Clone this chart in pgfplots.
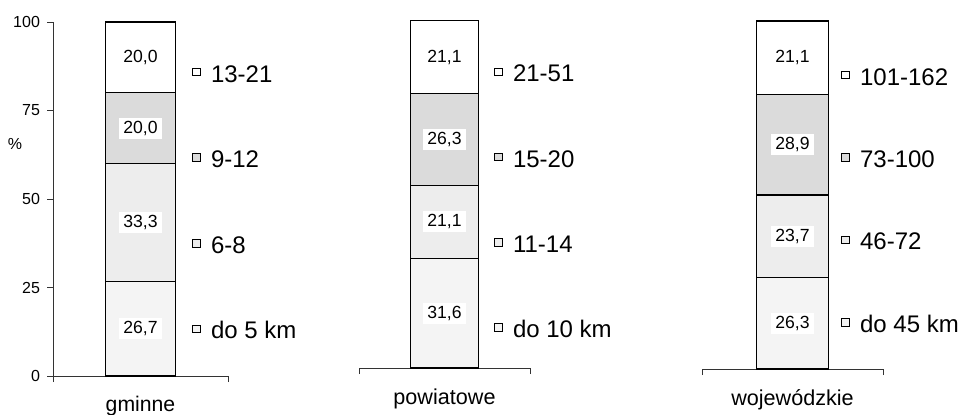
\documentclass[border=0pt]{standalone}
\usepackage{pgfplots}
\pgfplotsset{compat=1.18}
\usepackage{fontspec}
\setmainfont{Liberation Sans}
\definecolor{fA}{gray}{0.955}
\definecolor{fB}{gray}{0.93}
\definecolor{fC}{gray}{0.86}
\definecolor{fD}{gray}{1}
\pgfplotsset{
  panel/.style={
    scale only axis, anchor=south west,
    ybar stacked, bar width=1, xmin=-1.25, xmax=1.25, ymin=0, ymax=100,
    enlargelimits=false, clip=false,
    axis x line=bottom,
    xtick={-1.25,1.25}, xticklabels={}, xtick align=outside, major tick length=3pt,
    tick style={line width=0.5pt, black!80},
    /pgf/number format/assume math mode=true,
    ticklabel style={font=\fontsize{8}{9}\selectfont},
    legend style={anchor=north west, draw=none, fill=none, inner sep=0pt, outer sep=0pt, column sep=0pt,
      font=\fontsize{12}{14}\selectfont,
      nodes={inner sep=0pt, outer sep=0pt, text height=8.6pt, text depth=0pt}},
    legend cell align=left, reverse legend,
  },
  seg/.style={fill=#1, draw=black, line width=0.6pt,
    nodes near coords, point meta=explicit symbolic,
    every node near coord/.style={anchor=center, fill=white, inner xsep=2.2pt, inner ysep=1.6pt, font=\fontsize{8.8}{10}\selectfont, text=black},
    legend image code/.code={\draw[fill=#1, draw=black, line width=0.5pt] (0pt,-1.2pt) rectangle (4.2pt,2.6pt); \path (9pt,0pt);}
  },
}
\begin{document}
\begin{tikzpicture}
\useasboundingbox (0,0) rectangle (480.5pt,207pt);
% panel 1
\begin{axis}[panel, at={(26.5pt,19pt)}, width=87.5pt, height=177pt,
  axis y line=left, ytick={0,25,50,75,100}, ytick align=outside,
  axis line style={-, line width=0.5pt, black!80},
  legend style={at={(0.794,0.879)}, row sep=34.2pt}]
\addplot+[seg=fA] coordinates {(0,26.7) [26,7]};
\addplot+[seg=fB] coordinates {(0,33.3) [33,3]};
\addplot+[seg=fC] coordinates {(0,20.0) [20,0]};
\addplot+[seg=fD] coordinates {(0,20.0) [20,0]};
\legend{do 5 km,6-8,9-12,13-21}
\node[font=\fontsize{10.6}{12}\selectfont, anchor=base] at ([yshift=-17.5pt]rel axis cs:0.5,0) {gminne};
\node[font=\fontsize{8}{9}\selectfont] at ([xshift=-19pt]rel axis cs:0,0.655) {\%};
\end{axis}
% panel 2
\begin{axis}[panel, at={(179.5pt,23pt)}, width=85.5pt, height=173.5pt,
  axis y line=none, ytick=\empty,
  axis line style={-, line width=0.5pt, black!80},
  legend style={at={(0.789,0.874)}, row sep=34pt}]
\addplot+[seg=fA] coordinates {(0,31.6) [31,6]};
\addplot+[seg=fB] coordinates {(0,21.1) [21,1]};
\addplot+[seg=fC] coordinates {(0,26.3) [26,3]};
\addplot+[seg=fD] coordinates {(0,21.1) [21,1]};
\legend{do 10 km,11-14,15-20,21-51}
\node[font=\fontsize{10.8}{12}\selectfont, anchor=base] at ([yshift=-18pt]rel axis cs:0.5,0) {powiatowe};
\end{axis}
% panel 3
\begin{axis}[panel, at={(351pt,22.5pt)}, width=90.5pt, height=174pt,
  axis y line=none, ytick=\empty,
  axis line style={-, line width=0.5pt, black!80},
  legend style={at={(0.768,0.865)}, row sep=32.6pt}]
\addplot+[seg=fA] coordinates {(0,26.3) [26,3]};
\addplot+[seg=fB] coordinates {(0,23.7) [23,7]};
\addplot+[seg=fC] coordinates {(0,28.9) [28,9]};
\addplot+[seg=fD] coordinates {(0,21.1) [21,1]};
\legend{do 45 km,46-72,73-100,101-162}
\node[font=\fontsize{10.8}{12}\selectfont, anchor=base] at ([yshift=-18pt]rel axis cs:0.5,0) {wojewódzkie};
\end{axis}
\end{tikzpicture}
\end{document}
